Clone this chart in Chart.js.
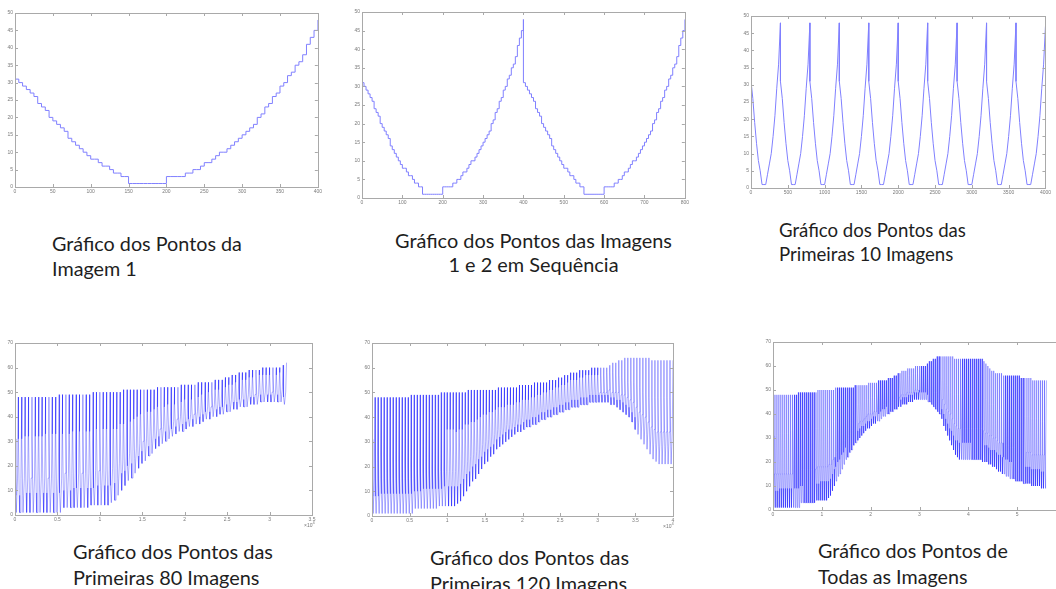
<!DOCTYPE html>
<html lang="pt">
<head>
<meta charset="utf-8">
<title>Gráficos dos Pontos das Imagens</title>
<script src="https://cdn.jsdelivr.net/npm/chart.js@4.4.1/dist/chart.umd.min.js"></script>
<style>
  html, body {
    margin: 0;
    background: #fff;
  }
  body {
    position: relative;
    width: 1056px;
    height: 589px;
    overflow: hidden;
  }
  canvas {
    position: absolute;
  }
  .rotulo {
    position: absolute;
    font-family: Lato, "Open Sans", sans-serif;
    color: #1e1e1e;
    white-space: nowrap;
  }
  .escala {
    position: absolute;
    font-family: "Liberation Sans", sans-serif;
    font-size: 5px;
    color: #777;
  }
  .escala sup {
    font-size: 4px;
  }
</style>
</head>
<body>

<canvas id="imagem-1"></canvas>
<canvas id="imagens-1-2"></canvas>
<canvas id="imagens-10"></canvas>
<canvas id="imagens-80"></canvas>
<canvas id="imagens-120"></canvas>
<canvas id="imagens-todas"></canvas>

<div class="rotulo" data-x="52" data-y="243" data-largura="190" data-linha="25">Gráfico dos Pontos da<br>Imagem 1</div>
<div class="rotulo" data-x="395" data-y="240" data-largura="277" data-linha="24" style="text-align:center">Gráfico dos Pontos das Imagens<br>1 e 2 em Sequência</div>
<div class="rotulo" data-x="779" data-y="230" data-largura="187" data-linha="24">Gráfico dos Pontos das<br>Primeiras 10 Imagens</div>
<div class="rotulo" data-x="73" data-y="551" data-largura="200" data-linha="26">Gráfico dos Pontos das<br>Primeiras 80 Imagens</div>
<div class="rotulo" data-x="430" data-y="557" data-largura="199" data-linha="26">Gráfico dos Pontos das<br>Primeiras 120 Imagens</div>
<div class="rotulo" data-x="818" data-y="551" data-largura="190" data-linha="26">Gráfico dos Pontos de<br>Todas as Imagens</div>

<div class="escala" style="left:304px;top:520px">×10<sup>4</sup></div>
<div class="escala" style="left:663px;top:521px">×10<sup>4</sup></div>

<script>
// pontos da imagem 1, um valor a cada 5 posicoes (0..400)
const passoImagem = 5;
const imagem1 = [
  31, 30, 29, 28, 27, 26, 24, 23, 22, 20, 19, 18, 17, 16, 14, 13, 12, 11, 10, 9,
  8, 8, 7, 6, 6, 5, 4, 4, 3, 3,
  1, 1, 1, 1, 1, 1, 1, 1, 1, 1,
  3, 3, 3, 3, 3, 4, 4, 5, 5, 6, 7, 7, 8, 9, 10, 10, 11, 12, 13, 14,
  15, 16, 17, 18, 20, 21, 23, 24, 26, 27, 29, 30, 32, 33, 35, 36, 38, 41, 43, 45,
  48,
];
// imagem 2, mesma amostragem
const imagem2 = [
  31, 30, 29, 28, 27, 26, 24, 23, 22, 20, 19, 18, 17, 16, 14, 13, 12, 11, 10, 9,
  8, 8, 7, 6, 6, 5, 4, 4, 3, 3,
  1, 1, 1, 1, 1, 1, 1, 1, 1, 1,
  3, 3, 3, 3, 3, 4, 4, 5, 5, 6, 7, 7, 8, 9, 10, 10, 11, 12, 13, 14,
  15, 16, 17, 18, 20, 21, 23, 24, 26, 27, 29, 30, 32, 33, 35, 36, 38, 41, 43, 45,
  48,
];

// primeiras 10 imagens, um valor a cada 25 posicoes
const passoDez = 25;
const dezImagens = [
  [31, 26, 19, 13, 8, 5, 1, 1, 1, 4, 7, 10, 15, 21, 29, 36, 48],
  [31, 26, 19, 13, 8, 5, 1, 1, 1, 4, 7, 10, 15, 21, 29, 36, 48],
  [31, 26, 19, 13, 8, 5, 1, 1, 1, 4, 7, 10, 15, 21, 29, 36, 48],
  [31, 26, 19, 13, 8, 5, 1, 1, 1, 4, 7, 10, 15, 21, 29, 36, 48],
  [31, 26, 19, 13, 8, 5, 1, 1, 1, 4, 7, 10, 15, 21, 29, 36, 48],
  [31, 26, 19, 13, 8, 5, 1, 1, 1, 4, 7, 10, 15, 21, 29, 36, 48],
  [31, 26, 19, 13, 8, 5, 1, 1, 1, 4, 7, 10, 15, 21, 29, 36, 48],
  [31, 26, 19, 13, 8, 5, 1, 1, 1, 4, 7, 10, 15, 21, 29, 36, 48],
  [31, 26, 19, 13, 8, 5, 1, 1, 1, 4, 7, 10, 15, 21, 29, 36, 48],
  [31, 26, 19, 13, 8, 5, 1, 1, 1, 4, 7, 10, 15, 21, 29, 36, 47],
];

// todas as imagens (400 pontos cada), valores de cada uma em:
// posicao 0 (inicio), 100 (descida), 150-200 (minimo), 300 (subida), 400 (pico)
const tamanhoImagem = 400;
const inicioImagens = [
  31, 31, 31, 32, 32, 32, 32, 32, 32, 33, 33, 33, 33, 33,
  33, 33, 33, 34, 34, 34, 34, 34,
  34, 34, 35, 35, 35, 35,
  34, 35, 35, 37, 37, 38, 38, 39, 40, 41, 41, 42, 42, 43, 44, 44, 44, 45, 45, 45, 46, 46, 47,
  47, 47, 48, 48, 49,
  49, 50, 50, 51, 51,
  52, 52, 53, 53, 54,
  55, 55, 55, 56, 56,
  57, 57, 57, 57, 57,
  57, 57, 58, 58, 58,
  57, 57, 56, 55, 54,
  55, 54, 53, 52, 50,
  49, 48, 48, 48, 48,
  48, 48, 48, 48, 48, 48, 48, 48, 48, 48,
  48, 47, 47, 46, 45,
  44, 44, 44, 43, 42,
  42, 42, 41, 41, 41,
  40, 40, 40, 40, 40,
  40, 39, 39, 39, 39,
  39, 38, 38, 38, 38,
  38, 37, 37, 37,
];
const descidaImagens = [
  8, 8, 8, 9, 9, 9, 9, 9, 9, 9, 9, 9, 9, 9,
  10, 10, 10, 11, 11, 11, 11, 11,
  11, 11, 12, 12, 12, 12,
  12, 13, 15, 17, 18, 20, 21, 23, 24, 26, 27, 28, 29, 31, 32, 33, 34, 35, 35, 36, 37, 37, 38,
  39, 39, 40, 40, 41,
  42, 42, 43, 43, 44,
  44, 45, 45, 46, 46,
  47, 47, 47, 48, 48,
  48, 49, 49, 49, 49,
  49, 49, 49, 48, 48,
  47, 47, 46, 45, 44,
  42, 40, 38, 36, 34,
  33, 31, 29, 29, 28,
  28, 28, 28, 28, 28, 28, 28, 28, 28, 28,
  28, 27, 27, 27, 26,
  25, 25, 25, 24, 23,
  23, 22, 22, 21, 21,
  20, 20, 20, 19, 19,
  19, 19, 18, 18, 18,
  18, 17, 17, 17, 17,
  17, 16, 16, 16,
];
const minimoImagens = [
  1, 1, 1, 1, 1, 1, 1, 1, 1, 1, 1, 1, 1, 1,
  3, 3, 3, 3, 3, 3, 3, 3,
  4, 4, 4, 4, 4, 4,
  5, 6, 8, 10, 12, 14, 15, 17, 19, 21, 22, 24, 25, 27, 28, 29, 30, 31, 32, 33, 34, 34, 35,
  36, 36, 37, 37, 38,
  39, 39, 40, 40, 41,
  41, 42, 42, 43, 43,
  44, 44, 44, 45, 45,
  45, 46, 46, 46, 46,
  46, 46, 46, 45, 45,
  44, 43, 42, 41, 40,
  38, 35, 33, 31, 29,
  27, 25, 23, 22, 21,
  21, 21, 21, 21, 21, 21, 21, 21, 21, 21,
  21, 20, 20, 20, 19,
  19, 18, 18, 17, 16,
  16, 15, 15, 14, 14,
  13, 13, 13, 12, 12,
  12, 12, 11, 11, 11,
  11, 10, 10, 10, 10,
  10, 9, 9, 9,
];
const subidaImagens = [
  15, 15, 15, 15, 15, 15, 15, 15, 15, 15, 15, 15, 15, 15,
  17, 17, 17, 17, 17, 17, 17, 17,
  18, 18, 18, 18, 18, 18,
  19, 19, 21, 22, 24, 25, 26, 27, 29, 30, 31, 32, 33, 35, 35, 36, 37, 37, 38, 39, 40, 40, 40,
  41, 41, 42, 42, 43,
  44, 44, 45, 45, 45,
  46, 46, 47, 47, 48,
  48, 48, 49, 49, 49,
  49, 50, 50, 50, 50,
  50, 50, 51, 50, 50,
  50, 49, 49, 48, 47,
  46, 44, 42, 41, 40,
  38, 36, 35, 34, 34,
  34, 34, 34, 34, 34, 34, 34, 34, 34, 34,
  34, 33, 32, 32, 31,
  31, 30, 30, 29, 28,
  28, 28, 27, 27, 27,
  26, 26, 26, 25, 25,
  25, 25, 24, 24, 24,
  24, 23, 23, 23, 23,
  23, 23, 23, 23,
];
const picoImagens = [
  48, 48, 48, 48, 48, 48, 48, 48, 48, 48, 48, 48,
  49, 49, 49, 49, 49, 49, 49, 49, 49, 49,
  50, 50, 50, 50, 50, 50, 50, 50, 50,
  51, 51, 51, 51, 51, 51, 51, 51, 51, 51,
  52, 52, 52, 52, 52, 52, 52,
  53, 53, 53, 53, 53,
  54, 54, 54, 54, 54,
  55, 55, 55,
  56, 56,
  57, 57,
  58, 58, 58,
  59, 59, 59, 59,
  60, 60, 60, 60, 60, 60, 61, 62,
  62, 63, 63,
  64, 64, 64, 64, 64, 64, 64, 64, 64,
  63, 63, 63, 63, 63, 63, 63, 63, 63, 63, 63, 63, 63, 63, 63,
  62, 61, 60, 59, 58, 58, 57, 57,
  57, 57, 56, 56, 56, 56, 56, 56, 56, 56,
  56, 55, 55, 55, 55, 55, 55, 54, 54, 54, 54, 54, 54, 54, 54,
];

// margens do canvas em volta da area do grafico
const ESQ = 16, DIR = 6, TOPO = 4, BASE = 10;

const moldura = {
  id: "moldura",
  afterDatasetsDraw(chart) {
    const { ctx, chartArea: a, scales } = chart;
    const x = scales.x, y = scales.y;
    ctx.save();
    ctx.strokeStyle = "#a9a9a9";
    ctx.lineWidth = 1;
    ctx.strokeRect(Math.round(a.left) + 0.5, Math.round(a.top) + 0.5,
      Math.round(a.right - a.left), Math.round(a.bottom - a.top));
    ctx.beginPath();
    x.ticks.forEach((t) => {
      const px = Math.round(x.getPixelForValue(t.value)) + 0.5;
      ctx.moveTo(px, a.bottom);
      ctx.lineTo(px, a.bottom - 3);
      ctx.moveTo(px, a.top);
      ctx.lineTo(px, a.top + 3);
    });
    y.ticks.forEach((t) => {
      const py = Math.round(y.getPixelForValue(t.value)) + 0.5;
      ctx.moveTo(a.left, py);
      ctx.lineTo(a.left + 3, py);
      ctx.moveTo(a.right, py);
      ctx.lineTo(a.right - 3, py);
    });
    ctx.stroke();
    ctx.restore();
  },
};

function eixo(min, max, passo, tamanho, rotulo) {
  return {
    type: "linear",
    min: min,
    max: max,
    grid: { display: false, drawTicks: false },
    border: { display: false },
    ticks: {
      stepSize: passo,
      autoSkip: false,
      maxRotation: 0,
      padding: 2,
      color: "#7a7a7a",
      font: { family: "Liberation Sans", size: 5 },
      callback: rotulo || ((v) => v),
    },
    afterFit: tamanho,
  };
}

function criarGrafico(id, caixa, pontos, linha, eixoX, eixoY) {
  const [l, t, r, b] = caixa;
  const canvas = document.getElementById(id);
  canvas.width = r - l + ESQ + DIR;
  canvas.height = b - t + TOPO + BASE;
  canvas.style.left = l - ESQ + "px";
  canvas.style.top = t - TOPO + "px";

  return new Chart(canvas, {
    type: "line",
    data: {
      datasets: [
        {
          data: pontos,
          borderColor: linha.cor,
          borderWidth: linha.largura,
          stepped: linha.degraus || false,
          pointRadius: 0,
          tension: 0,
          fill: false,
        },
      ],
    },
    options: {
      responsive: false,
      animation: false,
      events: [],
      layout: { padding: { top: TOPO, right: DIR, left: 0, bottom: 0 } },
      plugins: { legend: { display: false }, tooltip: { enabled: false } },
      scales: {
        x: eixo(eixoX[0], eixoX[1], eixoX[2], (s) => { s.height = BASE; }, eixoX[3]),
        y: eixo(eixoY[0], eixoY[1], eixoY[2], (s) => { s.width = ESQ; }),
      },
    },
    plugins: [moldura],
  });
}

function pontosImagem(valores, passo, origem) {
  return valores.map((v, i) => ({ x: origem + i * passo, y: v }));
}

function pontosCiclos(n) {
  const pts = [];
  for (let i = 0; i < n; i++) {
    const x0 = i * tamanhoImagem;
    pts.push({ x: x0, y: inicioImagens[i] });
    pts.push({ x: x0 + 100, y: descidaImagens[i] });
    pts.push({ x: x0 + 150, y: minimoImagens[i] });
    pts.push({ x: x0 + 200, y: minimoImagens[i] });
    pts.push({ x: x0 + 300, y: subidaImagens[i] });
    pts.push({ x: x0 + tamanhoImagem, y: picoImagens[i] });
  }
  return pts;
}

const linhaFina = { cor: "rgb(128,128,255)", largura: 1 };
const linhaDensa = { cor: "rgba(0,0,255,0.8)", largura: 0.4 };
const dezMil = (v) => +(v / 10000).toFixed(1);

criarGrafico("imagem-1", [15, 12, 318, 187],
  pontosImagem(imagem1, passoImagem, 0),
  { ...linhaFina, degraus: "before" }, [0, 400, 50], [0, 50, 5]);

criarGrafico("imagens-1-2", [362, 11, 685, 198],
  pontosImagem(imagem1, passoImagem, 0).concat(pontosImagem(imagem2, passoImagem, 400)),
  { ...linhaFina, degraus: "before" }, [0, 800, 100], [0, 50, 5]);

criarGrafico("imagens-10", [751, 15, 1047, 188],
  dezImagens.flatMap((img, k) => pontosImagem(img, passoDez, k * tamanhoImagem)),
  linhaFina, [0, 4000, 500], [0, 50, 5]);

criarGrafico("imagens-80", [15, 342, 312, 515],
  pontosCiclos(80), linhaDensa, [0, 35000, 5000, dezMil], [0, 70, 10]);

criarGrafico("imagens-120", [372, 342, 673, 516],
  pontosCiclos(100), linhaDensa, [0, 40000, 5000, dezMil], [0, 70, 10]);

criarGrafico("imagens-todas", [773, 341, 1066, 510],
  pontosCiclos(140), linhaDensa, [0, 60000, 10000, dezMil], [0, 70, 10]);

// ajusta o tamanho da fonte de cada legenda pela largura da primeira linha
const medidor = document.createElement("canvas").getContext("2d");
document.querySelectorAll(".rotulo").forEach((el) => {
  const primeira = el.innerHTML.split("<br>")[0];
  medidor.font = '100px Lato, "Open Sans", sans-serif';
  const tam = (100 * +el.dataset.largura) / medidor.measureText(primeira).width;
  const lh = +el.dataset.linha;
  el.style.fontSize = tam.toFixed(2) + "px";
  el.style.lineHeight = lh + "px";
  el.style.left = el.dataset.x + "px";
  el.style.top = +el.dataset.y - lh / 2 + "px";
  if (el.style.textAlign === "center") {
    el.style.width = el.dataset.largura + "px";
  }
});
</script>
</body>
</html>
